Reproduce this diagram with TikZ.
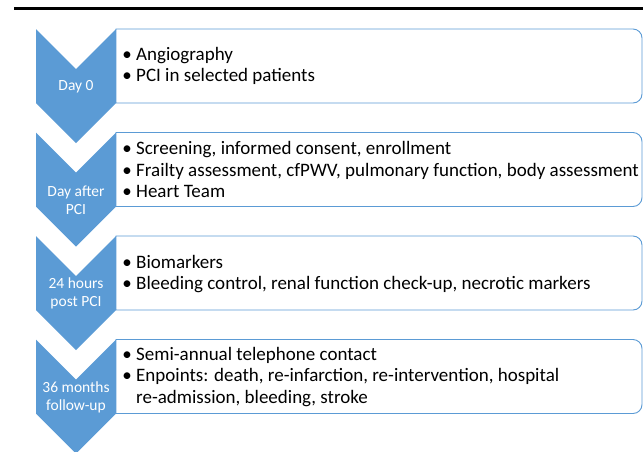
\documentclass[tikz,border=0pt]{standalone}
\usepackage{fontspec}
\setmainfont{Carlito}
\usetikzlibrary{positioning}
\definecolor{chevblue}{HTML}{5B9BD5}
\tikzset{
    chevron/.style={
        fill=chevblue,
        draw=none
    },
    stagebox/.style={
        draw=chevblue,
        fill=white,
        line width=0.9pt
    },
    daylabel/.style={
        text=white,
        align=center,
        inner sep=0pt,
        font=\fontsize{15.5}{17.5}\selectfont
    },
    itemlist/.style={
        anchor=west,
        align=left,
        inner sep=0pt,
        font=\fontsize{19}{21.5}\selectfont
    },
}
\newcommand{\bul}{\makebox[18pt][c]{•}}
\newcommand{\nobul}{\hspace*{18pt}}

\begin{document}
\begin{tikzpicture}[x=1pt, y=-1pt]
    \useasboundingbox (0,0) rectangle (643,451);
    \draw[line width=3pt] (14,8.5) -- (643,8.5);

    % chevrons and boxes
    \foreach \t in {29,132.5,236,339.5} {
        \fill[chevron] (36,\t) -- (76,\t+40) -- (116,\t) -- (116,\t+74) -- (76,\t+114) -- (36,\t+74) -- cycle;
        \draw[stagebox] (116,\t) [rounded corners=9pt] -- (642,\t) -- (642,\t+74) [sharp corners] -- (116,\t+74) -- cycle;
    }

    \node[daylabel] (day0) at (76,87) {Day 0};
    \node[daylabel] (dayafter) at (76,200) {Day after\\PCI};
    \node[daylabel] (hours24) at (76,293.5) {24 hours\\post PCI};
    \node[daylabel] (months36) at (76,397.5) {36 months\\follow-up};

    \node[itemlist] (items0) at (118,66) {\bul Angiography\\\bul PCI in selected patients};
    \node[itemlist] (itemsafter) at (118,169.5) {\bul Screening, informed consent, enrollment\\\bul Frailty assessment, cfPWV, pulmonary function, body assessment\\\bul Heart Team};
    \node[itemlist] (items24) at (118,274) {\bul Biomarkers\\\bul Bleeding control, renal function check-up, necrotic markers};
    \node[itemlist] (items36) at (118,377) {\bul Semi-annual telephone contact\\\bul Enpoints: death, re-infarction, re-intervention, hospital\\\nobul re-admission, bleeding, stroke};
\end{tikzpicture}
\end{document}
